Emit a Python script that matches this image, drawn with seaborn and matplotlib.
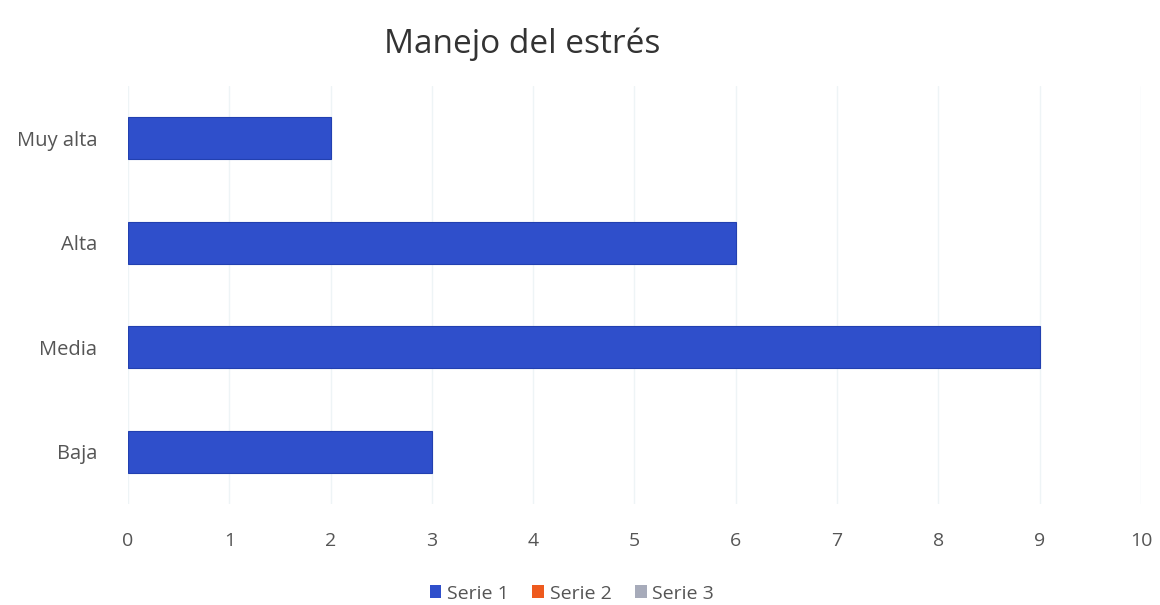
import pandas as pd
import seaborn as sns
import matplotlib.pyplot as plt
from matplotlib.patches import Patch

# datos del gráfico
categorias = ["Muy alta", "Alta", "Media", "Baja"]
serie1 = [2, 6, 9, 3]
series = ["Serie 1", "Serie 2", "Serie 3"]
colores = ["#2F4FCB", "#EE5A1E", "#A7ABBA"]

df = pd.DataFrame({"categoria": categorias, "valor": serie1})

sns.set_style("white")
plt.rcParams["font.family"] = ["Open Sans", "DejaVu Sans"]

fig = plt.figure(figsize=(11.6, 6.05), dpi=100)
ax = fig.add_axes([0.1103, 0.167, 0.8733, 0.691])

sns.barplot(
    data=df,
    x="valor",
    y="categoria",
    order=categorias,
    color=colores[0],
    saturation=1,
    width=0.4,
    edgecolor="#2240B0",
    linewidth=0.8,
    ax=ax,
)

ax.set_xlim(0, 10)
ax.set_xticks(range(0, 11))
ax.set_xlabel("")
ax.set_ylabel("")
ax.grid(axis="x", color="#EEF4F6", linewidth=1)
ax.set_axisbelow(True)
for s in ax.spines.values():
    s.set_visible(False)
ax.tick_params(axis="x", length=0, pad=20, labelsize=14, labelcolor="#555555")
ax.tick_params(axis="y", length=0, pad=22, labelsize=14.5, labelcolor="#555555")

fig.suptitle("Manejo del estrés", x=0.45, y=0.955, fontsize=24, color="#333333")

handles = [Patch(facecolor=c, edgecolor="none") for c in colores]
fig.legend(
    handles,
    series,
    loc="center",
    bbox_to_anchor=(0.493, 0.019),
    ncol=3,
    frameon=False,
    fontsize=14,
    labelcolor="#555555",
    handlelength=0.6,
    handleheight=0.6,
    handletextpad=0.3,
    columnspacing=1.2,
)

plt.savefig("out.png")
